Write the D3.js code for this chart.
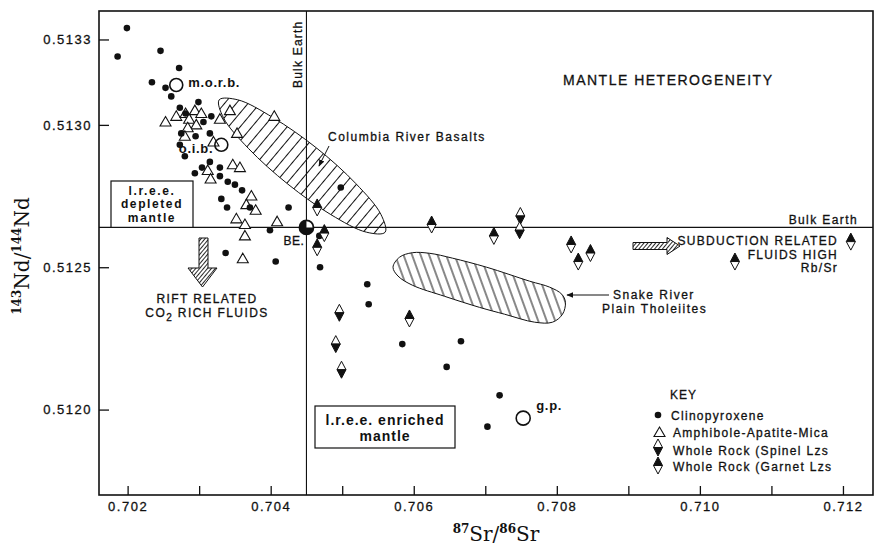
<!DOCTYPE html>
<html>
<head>
<meta charset="utf-8">
<script src="https://cdn.jsdelivr.net/npm/d3@7"></script>
<style>
  body { margin: 0; background: #fff; }
  svg { display: block; }
  text { font-family: "Liberation Sans", Arial, sans-serif; fill: #111; }
</style>
</head>
<body>
<svg id="chart" width="881" height="549"></svg>
<script>
// ---- axis ticks ----
const srTicks = [0.702, 0.703, 0.704, 0.705, 0.706, 0.707, 0.708, 0.709, 0.710, 0.711, 0.712];
const srTickLabels = ["0.702", "", "0.704", "", "0.706", "", "0.708", "", "0.710", "", "0.712"];
const ndTicks = [0.5120, 0.5125, 0.5130, 0.5133];
const ndTickLabels = ["0.5120", "0.5125", "0.5130", "0.5133"];

// ---- bulk earth reference ----
const bulkEarthSr = 0.7045;
const bulkEarthNd = 0.51264;

// ---- samples: [87Sr/86Sr, 143Nd/144Nd] ----
const clinopyroxene = [
  [0.70186, 0.51324], [0.70199, 0.51334], [0.70246, 0.51326], [0.70272, 0.51320],
  [0.70234, 0.51315], [0.70253, 0.51313], [0.70261, 0.51310], [0.70299, 0.51308],
  [0.70273, 0.51306], [0.70281, 0.51304], [0.70317, 0.51303], [0.70306, 0.51301],
  [0.70275, 0.51297], [0.70295, 0.51296], [0.70315, 0.51297], [0.70273, 0.51293],
  [0.70280, 0.51289], [0.70304, 0.51285], [0.70315, 0.51287], [0.70294, 0.51283],
  [0.70329, 0.51285], [0.70329, 0.51282], [0.70340, 0.51280], [0.70350, 0.51279],
  [0.70360, 0.51277], [0.70331, 0.51274], [0.70339, 0.51271], [0.70371, 0.51271],
  [0.70425, 0.51271], [0.70399, 0.51263], [0.70337, 0.51255], [0.70407, 0.51252],
  [0.70498, 0.51278], [0.70468, 0.51261], [0.70469, 0.51250], [0.70535, 0.51244],
  [0.70537, 0.51237], [0.70584, 0.51223], [0.70666, 0.51224], [0.70646, 0.51215],
  [0.70720, 0.51205], [0.70703, 0.51194]
];
const amphiboleApatiteMica = [
  [0.70253, 0.51301], [0.70268, 0.51303], [0.70281, 0.51304], [0.70286, 0.51302],
  [0.70294, 0.51305], [0.70303, 0.51304], [0.70296, 0.51300], [0.70284, 0.51299],
  [0.70329, 0.51302], [0.70343, 0.51305], [0.70353, 0.51297], [0.70405, 0.51303],
  [0.70280, 0.51296], [0.70320, 0.51294], [0.70347, 0.51286], [0.70357, 0.51285],
  [0.70312, 0.51284], [0.70316, 0.51281], [0.70373, 0.51275], [0.70366, 0.51272],
  [0.70379, 0.51270], [0.70352, 0.51267], [0.70364, 0.51265], [0.70409, 0.51266],
  [0.70364, 0.51261], [0.70361, 0.51253]
];
const wholeRockSpinel = [
  [0.70749, 0.51268], [0.70748, 0.51263], [0.70496, 0.51234], [0.70491, 0.51223],
  [0.70499, 0.51214]
];
const wholeRockGarnet = [
  [0.70465, 0.51271], [0.70475, 0.51262], [0.70465, 0.51257], [0.70625, 0.51265],
  [0.70712, 0.51261], [0.70820, 0.51258], [0.70830, 0.51252], [0.70847, 0.51255],
  [0.71211, 0.51259], [0.71049, 0.51252], [0.70594, 0.51232]
];

// ---- mantle reservoirs ----
const reservoirNames = ["m.o.r.b.", "o.i.b.", "g.p."];
const reservoirSr = [0.70268, 0.70331, 0.70753];
const reservoirNd = [0.51314, 0.51293, 0.51197];

// ---- basalt fields (outline vertices) ----
const columbiaRiverField = [
  [0.70560, 0.512623], [0.70534, 0.512623], [0.70484, 0.512685], [0.70424, 0.512792],
  [0.70369, 0.512917], [0.70334, 0.513025], [0.70328, 0.513088], [0.70354, 0.513088],
  [0.70403, 0.513026], [0.70464, 0.512919], [0.70519, 0.512794], [0.70554, 0.512686]
];
const snakeRiverField = [
  [0.70571, 0.512500], [0.70580, 0.512535], [0.70598, 0.512551], [0.70622, 0.512549],
  [0.70654, 0.512532], [0.70702, 0.512500], [0.70762, 0.512451], [0.70790, 0.512430],
  [0.70807, 0.512405], [0.70812, 0.512377], [0.70808, 0.512335], [0.70794, 0.512307],
  [0.70769, 0.512307], [0.70727, 0.512335], [0.70692, 0.512359], [0.70643, 0.512398],
  [0.70598, 0.512437], [0.70578, 0.512469]
];

// ---- key ----
const keyLabels = ["Clinopyroxene", "Amphibole-Apatite-Mica", "Whole Rock (Spinel Lzs", "Whole Rock (Garnet Lzs"];

// ================= drawing =================
const svg = d3.select("#chart");
const plot = { left: 99, top: 11, right: 873, bottom: 495 };

const x = d3.scaleLinear().domain([0.7016, 0.71242]).range([plot.left, plot.right]);
const y = d3.scaleLinear().domain([0.5117, 0.5134]).range([plot.bottom, plot.top]);

const ink = "#111";
const defs = svg.append("defs");
function hatch(id, angle, gap, width) {
  const p = defs.append("pattern")
    .attr("id", id).attr("patternUnits", "userSpaceOnUse")
    .attr("width", gap).attr("height", gap)
    .attr("patternTransform", `rotate(${angle})`);
  p.append("rect").attr("width", gap).attr("height", gap).attr("fill", "#fff");
  p.append("line").attr("x1", gap / 2).attr("x2", gap / 2).attr("y1", 0).attr("y2", gap)
    .attr("stroke", ink).attr("stroke-width", width);
}
hatch("hatchCRB", 40, 9, 1);
hatch("hatchSRP", -20, 8, 1);
hatch("hatchArrow", 40, 3, 0.9);

defs.append("marker").attr("id", "arrowHead")
  .attr("viewBox", "0 0 10 10").attr("refX", 9).attr("refY", 5)
  .attr("markerWidth", 7).attr("markerHeight", 7).attr("markerUnits", "userSpaceOnUse")
  .attr("orient", "auto")
  .append("path").attr("d", "M0,1 L10,5 L0,9 Z").attr("fill", ink);

// basalt fields
const fieldLine = d3.line().x(d => x(d[0])).y(d => y(d[1])).curve(d3.curveCatmullRomClosed.alpha(0.5));
svg.append("path").attr("d", fieldLine(columbiaRiverField))
  .attr("fill", "url(#hatchCRB)").attr("stroke", ink).attr("stroke-width", 1);
svg.append("path").attr("d", fieldLine(snakeRiverField))
  .attr("fill", "url(#hatchSRP)").attr("stroke", ink).attr("stroke-width", 1);

// bulk earth lines
svg.append("line").attr("x1", x(bulkEarthSr)).attr("x2", x(bulkEarthSr))
  .attr("y1", plot.top).attr("y2", plot.bottom).attr("stroke", ink).attr("stroke-width", 1.1);
svg.append("line").attr("x1", plot.left).attr("x2", plot.right)
  .attr("y1", y(bulkEarthNd)).attr("y2", y(bulkEarthNd)).attr("stroke", ink).attr("stroke-width", 1.1);

// axes (ticks point inward)
const xAxis = d3.axisBottom(x).tickValues(srTicks)
  .tickFormat((d, i) => srTickLabels[i]).tickSizeInner(-9).tickSizeOuter(0).tickPadding(7);
const yAxis = d3.axisLeft(y).tickValues(ndTicks)
  .tickFormat((d, i) => ndTickLabels[i]).tickSizeInner(-10).tickSizeOuter(0).tickPadding(7);
const gx = svg.append("g").attr("transform", `translate(0,${plot.bottom})`).call(xAxis);
const gy = svg.append("g").attr("transform", `translate(${plot.left},0)`).call(yAxis);
[gx, gy].forEach(g => {
  g.select(".domain").remove();
  g.selectAll(".tick line").attr("stroke", ink).attr("stroke-width", 1.3);
  g.selectAll(".tick text").attr("fill", ink)
    .style("font-family", '"Liberation Sans", Arial, sans-serif')
    .style("font-size", "13px").style("letter-spacing", "1.5px")
    .style("stroke", ink).style("stroke-width", "0.3px");
});

// frame
svg.append("rect").attr("x", plot.left).attr("y", plot.top)
  .attr("width", plot.right - plot.left).attr("height", plot.bottom - plot.top)
  .attr("fill", "none").attr("stroke", ink).attr("stroke-width", 1.6);

// axis titles
const xt = svg.append("text").attr("x", 496).attr("y", 541).attr("text-anchor", "middle")
  .style("font-family", '"DejaVu Serif", "Liberation Serif", serif').style("font-size", "20px");
xt.append("tspan").text("87").style("font-size", "12px").style("font-weight", "bold").attr("dy", -8);
xt.append("tspan").text("Sr/").attr("dy", 8);
xt.append("tspan").text("86").style("font-size", "12px").style("font-weight", "bold").attr("dy", -8);
xt.append("tspan").text("Sr").attr("dy", 8);

const yt = svg.append("text").attr("transform", "translate(29,256) rotate(-90)").attr("text-anchor", "middle")
  .style("font-family", '"DejaVu Serif", "Liberation Serif", serif').style("font-size", "20px");
yt.append("tspan").text("143").style("font-size", "12px").style("font-weight", "bold").attr("dy", -8);
yt.append("tspan").text("Nd/").attr("dy", 8);
yt.append("tspan").text("144").style("font-size", "12px").style("font-weight", "bold").attr("dy", -8);
yt.append("tspan").text("Nd").attr("dy", 8);

// ---- symbols ----
const tri = "M0,-5.5 L5.5,4 L-5.5,4 Z";
function diamond(g, filledTop) {
  g.append("path").attr("d", "M0,-8.5 L4.5,0 L-4.5,0 Z")
    .attr("fill", filledTop ? ink : "#fff").attr("stroke", ink).attr("stroke-width", 1);
  g.append("path").attr("d", "M-4.5,0 L4.5,0 L0,8.5 Z")
    .attr("fill", filledTop ? "#fff" : ink).attr("stroke", ink).attr("stroke-width", 1);
}

svg.append("g").selectAll("path").data(amphiboleApatiteMica).join("path")
  .attr("transform", d => `translate(${x(d[0])},${y(d[1])})`)
  .attr("d", tri).attr("fill", "#fff").attr("stroke", ink).attr("stroke-width", 1.1);

svg.append("g").selectAll("circle").data(clinopyroxene).join("circle")
  .attr("cx", d => x(d[0])).attr("cy", d => y(d[1])).attr("r", 3.3).attr("fill", ink);

svg.append("g").selectAll("g").data(wholeRockSpinel).join("g")
  .attr("transform", d => `translate(${x(d[0])},${y(d[1])})`)
  .each(function () { diamond(d3.select(this), false); });
svg.append("g").selectAll("g").data(wholeRockGarnet).join("g")
  .attr("transform", d => `translate(${x(d[0])},${y(d[1])})`)
  .each(function () { diamond(d3.select(this), true); });

// reservoirs
const labelOffsets = [[12, 2, "start"], [-8, 8.5, "end"], [13, -8.5, "start"]];
reservoirNames.forEach((name, i) => {
  const cx = x(reservoirSr[i]), cy = y(reservoirNd[i]);
  svg.append("circle").attr("cx", cx).attr("cy", cy).attr("r", i === 2 ? 7 : 6.5)
    .attr("fill", "none").attr("stroke", ink).attr("stroke-width", 1.6);
  const o = labelOffsets[i];
  svg.append("text").attr("x", cx + o[0]).attr("y", cy + o[1]).attr("text-anchor", o[2])
    .style("font-size", "13px").style("font-weight", "bold").style("letter-spacing", "0.7px").text(name);
});

// bulk earth point
const bx = x(bulkEarthSr), by = y(bulkEarthNd);
const arc = d3.arc().innerRadius(0).outerRadius(7);
svg.append("circle").attr("cx", bx).attr("cy", by).attr("r", 7).attr("fill", "#fff");
svg.append("path").attr("transform", `translate(${bx},${by})`)
  .attr("d", arc({ startAngle: Math.PI / 2, endAngle: 2 * Math.PI })).attr("fill", ink);
svg.append("circle").attr("cx", bx).attr("cy", by).attr("r", 7)
  .attr("fill", "none").attr("stroke", ink).attr("stroke-width", 1.8);

// ---- annotations ----
function label(txt, px, py, opts = {}) {
  return svg.append("text").attr("x", px).attr("y", py)
    .attr("text-anchor", opts.anchor || "start")
    .style("font-size", (opts.size || 12) + "px")
    .style("font-weight", opts.weight || "normal")
    .style("letter-spacing", (opts.ls == null ? 1.5 : opts.ls) + "px")
    .style("stroke", opts.weight === "bold" ? "none" : ink)
    .style("stroke-width", "0.3px")
    .text(txt);
}

label("BE.", bx - 23, by + 18, { ls: 0.5 });
label("MANTLE HETEROGENEITY", 563, 85, { size: 14, ls: 1.5 });
label("Bulk Earth", 858, 224, { anchor: "end", ls: 1.4 });
svg.append("text").attr("transform", "translate(302,88) rotate(-90)")
  .style("font-size", "12px").style("letter-spacing", "1.2px")
  .style("stroke", ink).style("stroke-width", "0.3px").text("Bulk Earth");

label("Columbia River Basalts", 328, 141, { ls: 1.5 });
svg.append("line").attr("x1", 329).attr("y1", 146).attr("x2", 319).attr("y2", 166)
  .attr("stroke", ink).attr("stroke-width", 1).attr("marker-end", "url(#arrowHead)");

label("Snake River", 613, 299, { ls: 1.5 });
label("Plain Tholeiites", 602, 313, { ls: 1.5 });
svg.append("line").attr("x1", 609).attr("y1", 295).attr("x2", 567).attr("y2", 295)
  .attr("stroke", ink).attr("stroke-width", 1).attr("marker-end", "url(#arrowHead)");

// l.r.e.e. boxes
function box(x0, y0, w, h, lines, baselines, size, ls) {
  svg.append("rect").attr("x", x0).attr("y", y0).attr("width", w).attr("height", h)
    .attr("fill", "#fff").attr("stroke", ink).attr("stroke-width", 1.2);
  lines.forEach((t, i) => label(t, x0 + w / 2, baselines[i], { anchor: "middle", size, weight: "bold", ls }));
}
box(111, 181, 82, y(bulkEarthNd) - 181, ["l.r.e.e.", "depleted", "mantle"], [194.5, 208, 221.5], 12, 1.6);
box(315, 406, 140, 42, ["l.r.e.e. enriched", "mantle"], [425, 441], 14, 1);

// rift arrow (down)
svg.append("path").attr("d", "M199,238 L208,238 L208,268 L217,268 L202.5,287 L188,268 L199,268 Z")
  .attr("fill", "url(#hatchArrow)").attr("stroke", ink).attr("stroke-width", 1);
label("RIFT RELATED", 207, 303, { anchor: "middle", ls: 1.4 });
const co2 = svg.append("text").attr("x", 207).attr("y", 317).attr("text-anchor", "middle")
  .style("font-size", "12px").style("letter-spacing", "1.4px")
  .style("stroke", ink).style("stroke-width", "0.3px");
co2.append("tspan").text("CO");
co2.append("tspan").text("2").attr("dy", 4).style("font-size", "10px");
co2.append("tspan").text(" RICH FLUIDS").attr("dy", -4);

// subduction arrow (right)
svg.append("path").attr("d", "M633,242.5 L667,242.5 L667,237.5 L680,246 L667,254.5 L667,249.5 L633,249.5 Z")
  .attr("fill", "url(#hatchArrow)").attr("stroke", ink).attr("stroke-width", 1);
label("SUBDUCTION RELATED", 838, 245, { anchor: "end", ls: 1.3 });
label("FLUIDS HIGH", 838, 258.5, { anchor: "end", ls: 1.3 });
label("Rb/Sr", 838, 272, { anchor: "end", ls: 1.3 });

// ---- key ----
label("KEY", 670, 399, { ls: 1 });
const keyY = [415, 432.5, 447.5, 465.5];
const keyBase = [419.5, 437, 454.5, 471];
svg.append("circle").attr("cx", 658).attr("cy", keyY[0]).attr("r", 3.3).attr("fill", ink);
svg.append("path").attr("transform", `translate(659.5,${keyY[1]})`).attr("d", tri)
  .attr("fill", "#fff").attr("stroke", ink).attr("stroke-width", 1.1);
diamond(svg.append("g").attr("transform", `translate(658,${keyY[2]})`), false);
diamond(svg.append("g").attr("transform", `translate(658,${keyY[3]})`), true);
keyLabels.forEach((t, i) => label(t, i === 0 ? 671 : 673, keyBase[i], { ls: 1.3 }));
</script>
</body>
</html>
